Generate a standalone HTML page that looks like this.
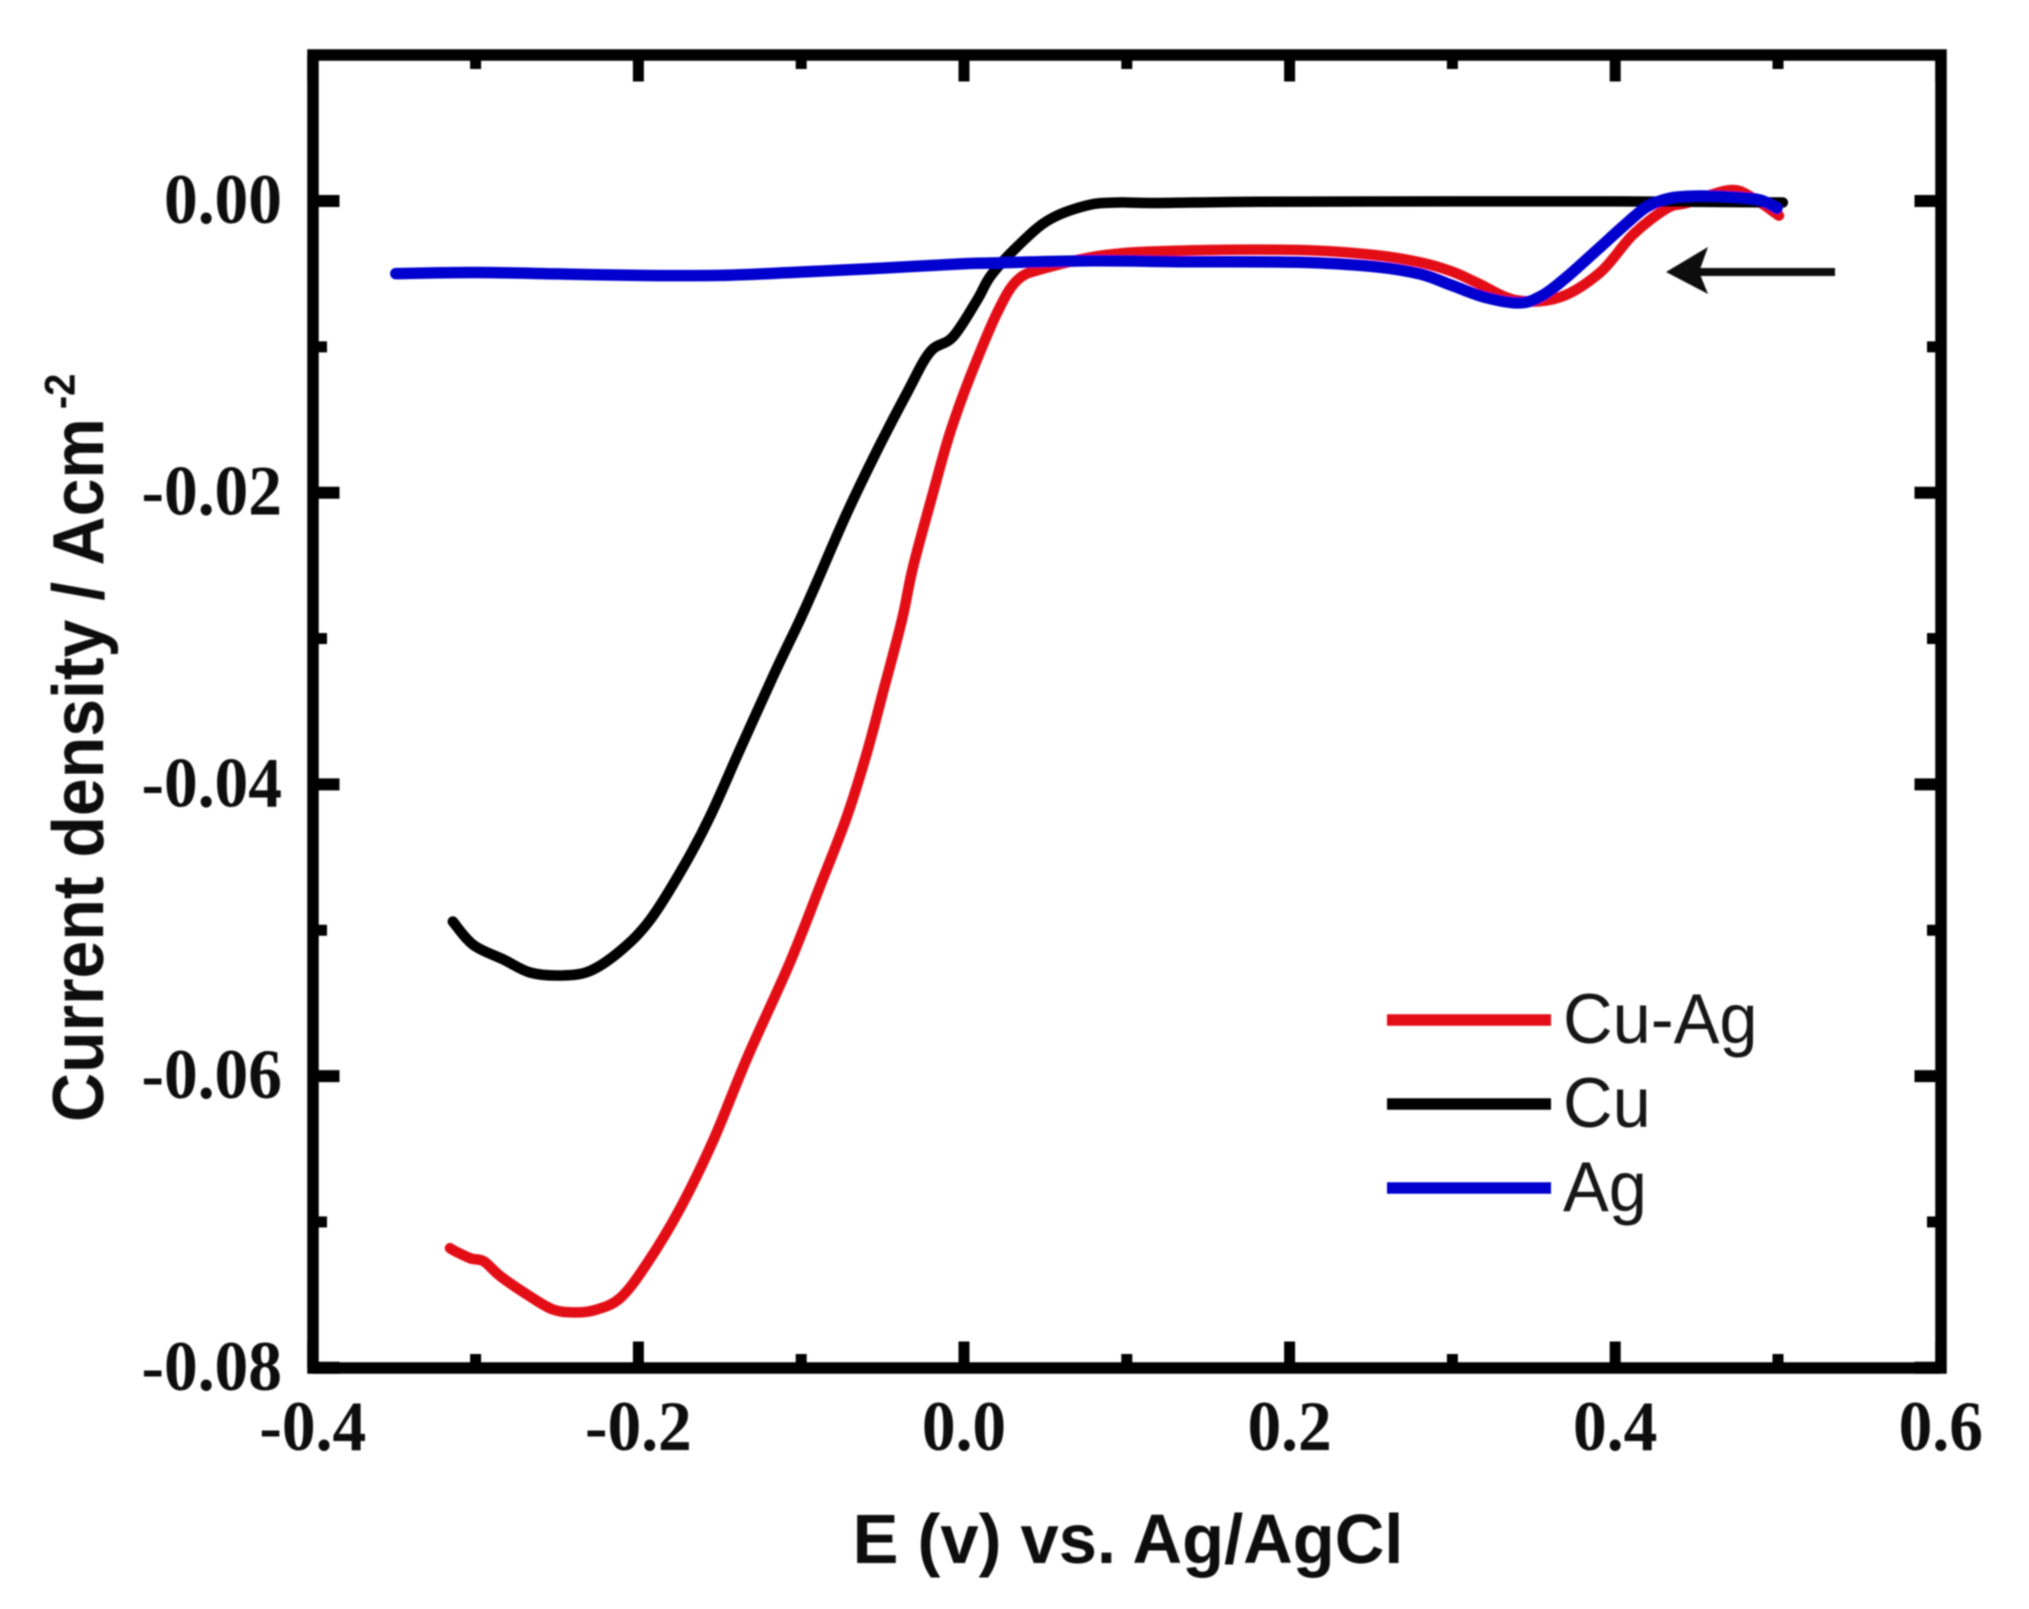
<!DOCTYPE html>
<html lang="en">
<head>
<meta charset="utf-8">
<title>Current density vs. potential</title>
<style>
  html, body { margin: 0; padding: 0; background: #fff; }
  body { width: 2029px; height: 1609px; overflow: hidden; }
  svg { display: block; }
  .tick-label { font-family: "Liberation Serif", serif; font-weight: bold; font-size: 71px; fill: #0a0a0a; }
  .axis-title { font-family: "Liberation Sans", sans-serif; font-weight: bold; font-size: 68px; fill: #0a0a0a; }
  .legend-label { font-family: "Liberation Sans", sans-serif; font-size: 68px; fill: #141414; }
</style>
</head>
<body>
<svg id="chart" width="2029" height="1609" viewBox="0 0 2029 1609" xmlns="http://www.w3.org/2000/svg">
  <defs>
    <filter id="soft" x="-5%" y="-5%" width="110%" height="110%"><feGaussianBlur stdDeviation="0.7"/></filter>
  </defs>
  <rect width="2029" height="1609" fill="#ffffff"/>
  <g id="plot" filter="url(#soft)">
    <g id="series"></g>
    <g id="ticks"></g>
    <rect x="313" y="55" width="1628" height="1313" fill="none" stroke="#000" stroke-width="11.5"/>
    <g id="labels"></g>
    <text class="axis-title" text-anchor="middle" transform="translate(1128,1563) scale(1.01,1.03)">E (v) vs. Ag/AgCl</text>
    <text class="axis-title" transform="translate(103,1122) rotate(-90) scale(1,1.06)">Current density / Acm<tspan dx="9" dy="-27" font-size="40">-2</tspan></text>
    <g>
      <line x1="1690" y1="272" x2="1835" y2="272" stroke="#0a0a0a" stroke-width="8"/>
      <polygon points="1666,272 1708,247 1699,272 1708,294" fill="#0a0a0a"/>
    </g>
    <g id="legend"></g>
  </g>
</svg>
<script>
// Axis ticks and labels
var xMajorTicks = [-0.4, -0.2, 0.0, 0.2, 0.4, 0.6];
var xMinorTicks = [-0.3, -0.1, 0.1, 0.3, 0.5];
var yMajorTicks = [0.00, -0.02, -0.04, -0.06, -0.08];
var yMinorTicks = [-0.01, -0.03, -0.05, -0.07];
var xTickLabels = ["-0.4", "-0.2", "0.0", "0.2", "0.4", "0.6"];
var yTickLabels = ["0.00", "-0.02", "-0.04", "-0.06", "-0.08"];

// Series: Cu-Ag
var cuAgX = [-0.3157, -0.3127, -0.303, -0.295, -0.285, -0.268, -0.2525, -0.238, -0.2255, -0.211, -0.195, -0.1745, -0.154, -0.133, -0.1069, -0.0885, -0.0719, -0.0596, -0.0498, -0.0381, -0.0313, -0.019, -0.0086, 0.0037, 0.0203, 0.033, 0.05, 0.087, 0.134, 0.206, 0.252, 0.28, 0.3, 0.315, 0.339, 0.366, 0.3907, 0.411, 0.4318, 0.444, 0.4705, 0.4847, 0.5006];
var cuAgY = [-0.0718, -0.072, -0.0725, -0.0727, -0.0737, -0.075, -0.076, -0.0762, -0.076, -0.0752, -0.0729, -0.0691, -0.0644, -0.0587, -0.0522, -0.047, -0.0422, -0.0378, -0.0337, -0.0287, -0.0251, -0.02, -0.0159, -0.01207, -0.00768, -0.0054, -0.0046, -0.0037, -0.0034, -0.00336, -0.0037, -0.0042, -0.00485, -0.0056, -0.0068, -0.0066, -0.0049, -0.0023, -0.0005, -0.00014, 0.00075, 0.0002, -0.001];

// Series: Cu
var cuX = [-0.314, -0.3015, -0.283, -0.2665, -0.248, -0.23, -0.211, -0.1929, -0.1726, -0.156, -0.1376, -0.1173, -0.1007, -0.0903, -0.0719, -0.0534, -0.035, -0.0209, -0.0068, 0.008, 0.0166, 0.033, 0.052, 0.0756, 0.0946, 0.118, 0.181, 0.3, 0.4, 0.503];
var cuY = [-0.0494, -0.051, -0.052, -0.0529, -0.0531, -0.0528, -0.0514, -0.0493, -0.0457, -0.0422, -0.0376, -0.0326, -0.0287, -0.0261, -0.0214, -0.0171, -0.01316, -0.01035, -0.00932, -0.0068, -0.0051, -0.0031, -0.0013, -0.0003, -0.0001, -0.00014, -0.00005, -0.00003, -0.00003, -0.0001];

// Series: Ag
var agX = [-0.349, -0.3, -0.25, -0.2, -0.15, -0.1, -0.05, 0.0, 0.0166, 0.08, 0.134, 0.206, 0.252, 0.28, 0.3, 0.32, 0.3415, 0.3557, 0.3704, 0.3888, 0.4073, 0.4195, 0.4337, 0.4521, 0.4724, 0.4889, 0.4994];
var agY = [-0.00498, -0.0049, -0.005, -0.0051, -0.0051, -0.00487, -0.0046, -0.0043, -0.00425, -0.0041, -0.00416, -0.0042, -0.0045, -0.005, -0.0058, -0.0066, -0.00699, -0.00645, -0.0052, -0.00336, -0.0015, -0.0004, 0.0002, 0.00034, 0.00027, 0.00007, -0.0005];

// Legend
var legendNames = ["Cu-Ag", "Cu", "Ag"];
var seriesColors = ["#e30b13", "#050505", "#0000cf"];

var NS = "http://www.w3.org/2000/svg";
function xScale(v) { return 964 + v * 1628; }
function yScale(v) { return 201 - v * 14585; }

function smoothPath(xs, ys) {
  var p = xs.map(function (x, i) { return [xScale(x), yScale(ys[i])]; });
  var d = "M" + p[0][0].toFixed(1) + " " + p[0][1].toFixed(1);
  for (var i = 0; i < p.length - 1; i++) {
    var a = p[Math.max(i - 1, 0)], b = p[i], c = p[i + 1], e = p[Math.min(i + 2, p.length - 1)];
    var c1x = b[0] + (c[0] - a[0]) / 6, c1y = b[1] + (c[1] - a[1]) / 6;
    var c2x = c[0] - (e[0] - b[0]) / 6, c2y = c[1] - (e[1] - b[1]) / 6;
    d += " C" + c1x.toFixed(1) + " " + c1y.toFixed(1) + " " + c2x.toFixed(1) + " " + c2y.toFixed(1) + " " + c[0].toFixed(1) + " " + c[1].toFixed(1);
  }
  return d;
}

var seriesGroup = document.getElementById("series");
var allSeries = [[cuAgX, cuAgY, 0, 10.5], [cuX, cuY, 1, 10.5], [agX, agY, 2, 11.5]];
allSeries.forEach(function (s) {
  var path = document.createElementNS(NS, "path");
  path.setAttribute("d", smoothPath(s[0], s[1]));
  path.setAttribute("fill", "none");
  path.setAttribute("stroke", seriesColors[s[2]]);
  path.setAttribute("stroke-width", s[3]);
  path.setAttribute("stroke-linecap", "round");
  path.setAttribute("stroke-linejoin", "round");
  
  
  seriesGroup.appendChild(path);
});

var tickGroup = document.getElementById("ticks");
function addTick(x1, y1, x2, y2, width, kind) {
  var t = document.createElementNS(NS, "line");
  t.setAttribute("x1", x1);
  t.setAttribute("y1", y1);
  t.setAttribute("x2", x2);
  t.setAttribute("y2", y2);
  t.setAttribute("stroke", "#000");
  t.setAttribute("stroke-width", width);
  
  
  tickGroup.appendChild(t);
}
var MAJOR = 26.5, MINOR = 14;
xMajorTicks.forEach(function (v) {
  addTick(xScale(v), 1368, xScale(v), 1368 - MAJOR, 11, "x-major-tick");
  addTick(xScale(v), 55, xScale(v), 55 + MAJOR, 11, "x-major-tick-top");
});
xMinorTicks.forEach(function (v) {
  addTick(xScale(v), 1368, xScale(v), 1368 - MINOR, 11, "x-minor-tick");
  addTick(xScale(v), 55, xScale(v), 55 + MINOR, 11, "x-minor-tick-top");
});
yMajorTicks.forEach(function (v) {
  addTick(313, yScale(v), 313 + MAJOR, yScale(v), 12, "y-major-tick");
  addTick(1941, yScale(v), 1941 - MAJOR, yScale(v), 12, "y-major-tick-right");
});
yMinorTicks.forEach(function (v) {
  addTick(313, yScale(v), 313 + MINOR, yScale(v), 11, "y-minor-tick");
  addTick(1941, yScale(v), 1941 - MINOR, yScale(v), 11, "y-minor-tick-right");
});

var labelGroup = document.getElementById("labels");
xTickLabels.forEach(function (txt, i) {
  var el = document.createElementNS(NS, "text");
  el.setAttribute("class", "tick-label");
  el.setAttribute("text-anchor", "middle");
  el.setAttribute("transform", "translate(" + xScale(xMajorTicks[i]) + ",1450) scale(0.95,1)");
  el.textContent = txt;
  
  
  labelGroup.appendChild(el);
});
yTickLabels.forEach(function (txt, i) {
  var el = document.createElementNS(NS, "text");
  el.setAttribute("class", "tick-label");
  el.setAttribute("text-anchor", "end");
  el.setAttribute("transform", "translate(282," + (yScale(yMajorTicks[i]) + 22) + ") scale(0.95,1)");
  el.textContent = txt;
  
  
  labelGroup.appendChild(el);
});

var legendGroup = document.getElementById("legend");
legendNames.forEach(function (name, i) {
  var y = 1020 + i * 84;
  var sw = document.createElementNS(NS, "line");
  sw.setAttribute("x1", 1387);
  sw.setAttribute("y1", y);
  sw.setAttribute("x2", 1551);
  sw.setAttribute("y2", y);
  sw.setAttribute("stroke", seriesColors[i]);
  sw.setAttribute("stroke-width", 11.5);
  
  
  legendGroup.appendChild(sw);
  var tx = document.createElementNS(NS, "text");
  tx.setAttribute("class", "legend-label");
  tx.setAttribute("transform", "translate(1563," + (y + 23) + ") scale(1.01,1.04)");
  tx.textContent = name;
  
  
  legendGroup.appendChild(tx);
});
</script>
</body>
</html>
